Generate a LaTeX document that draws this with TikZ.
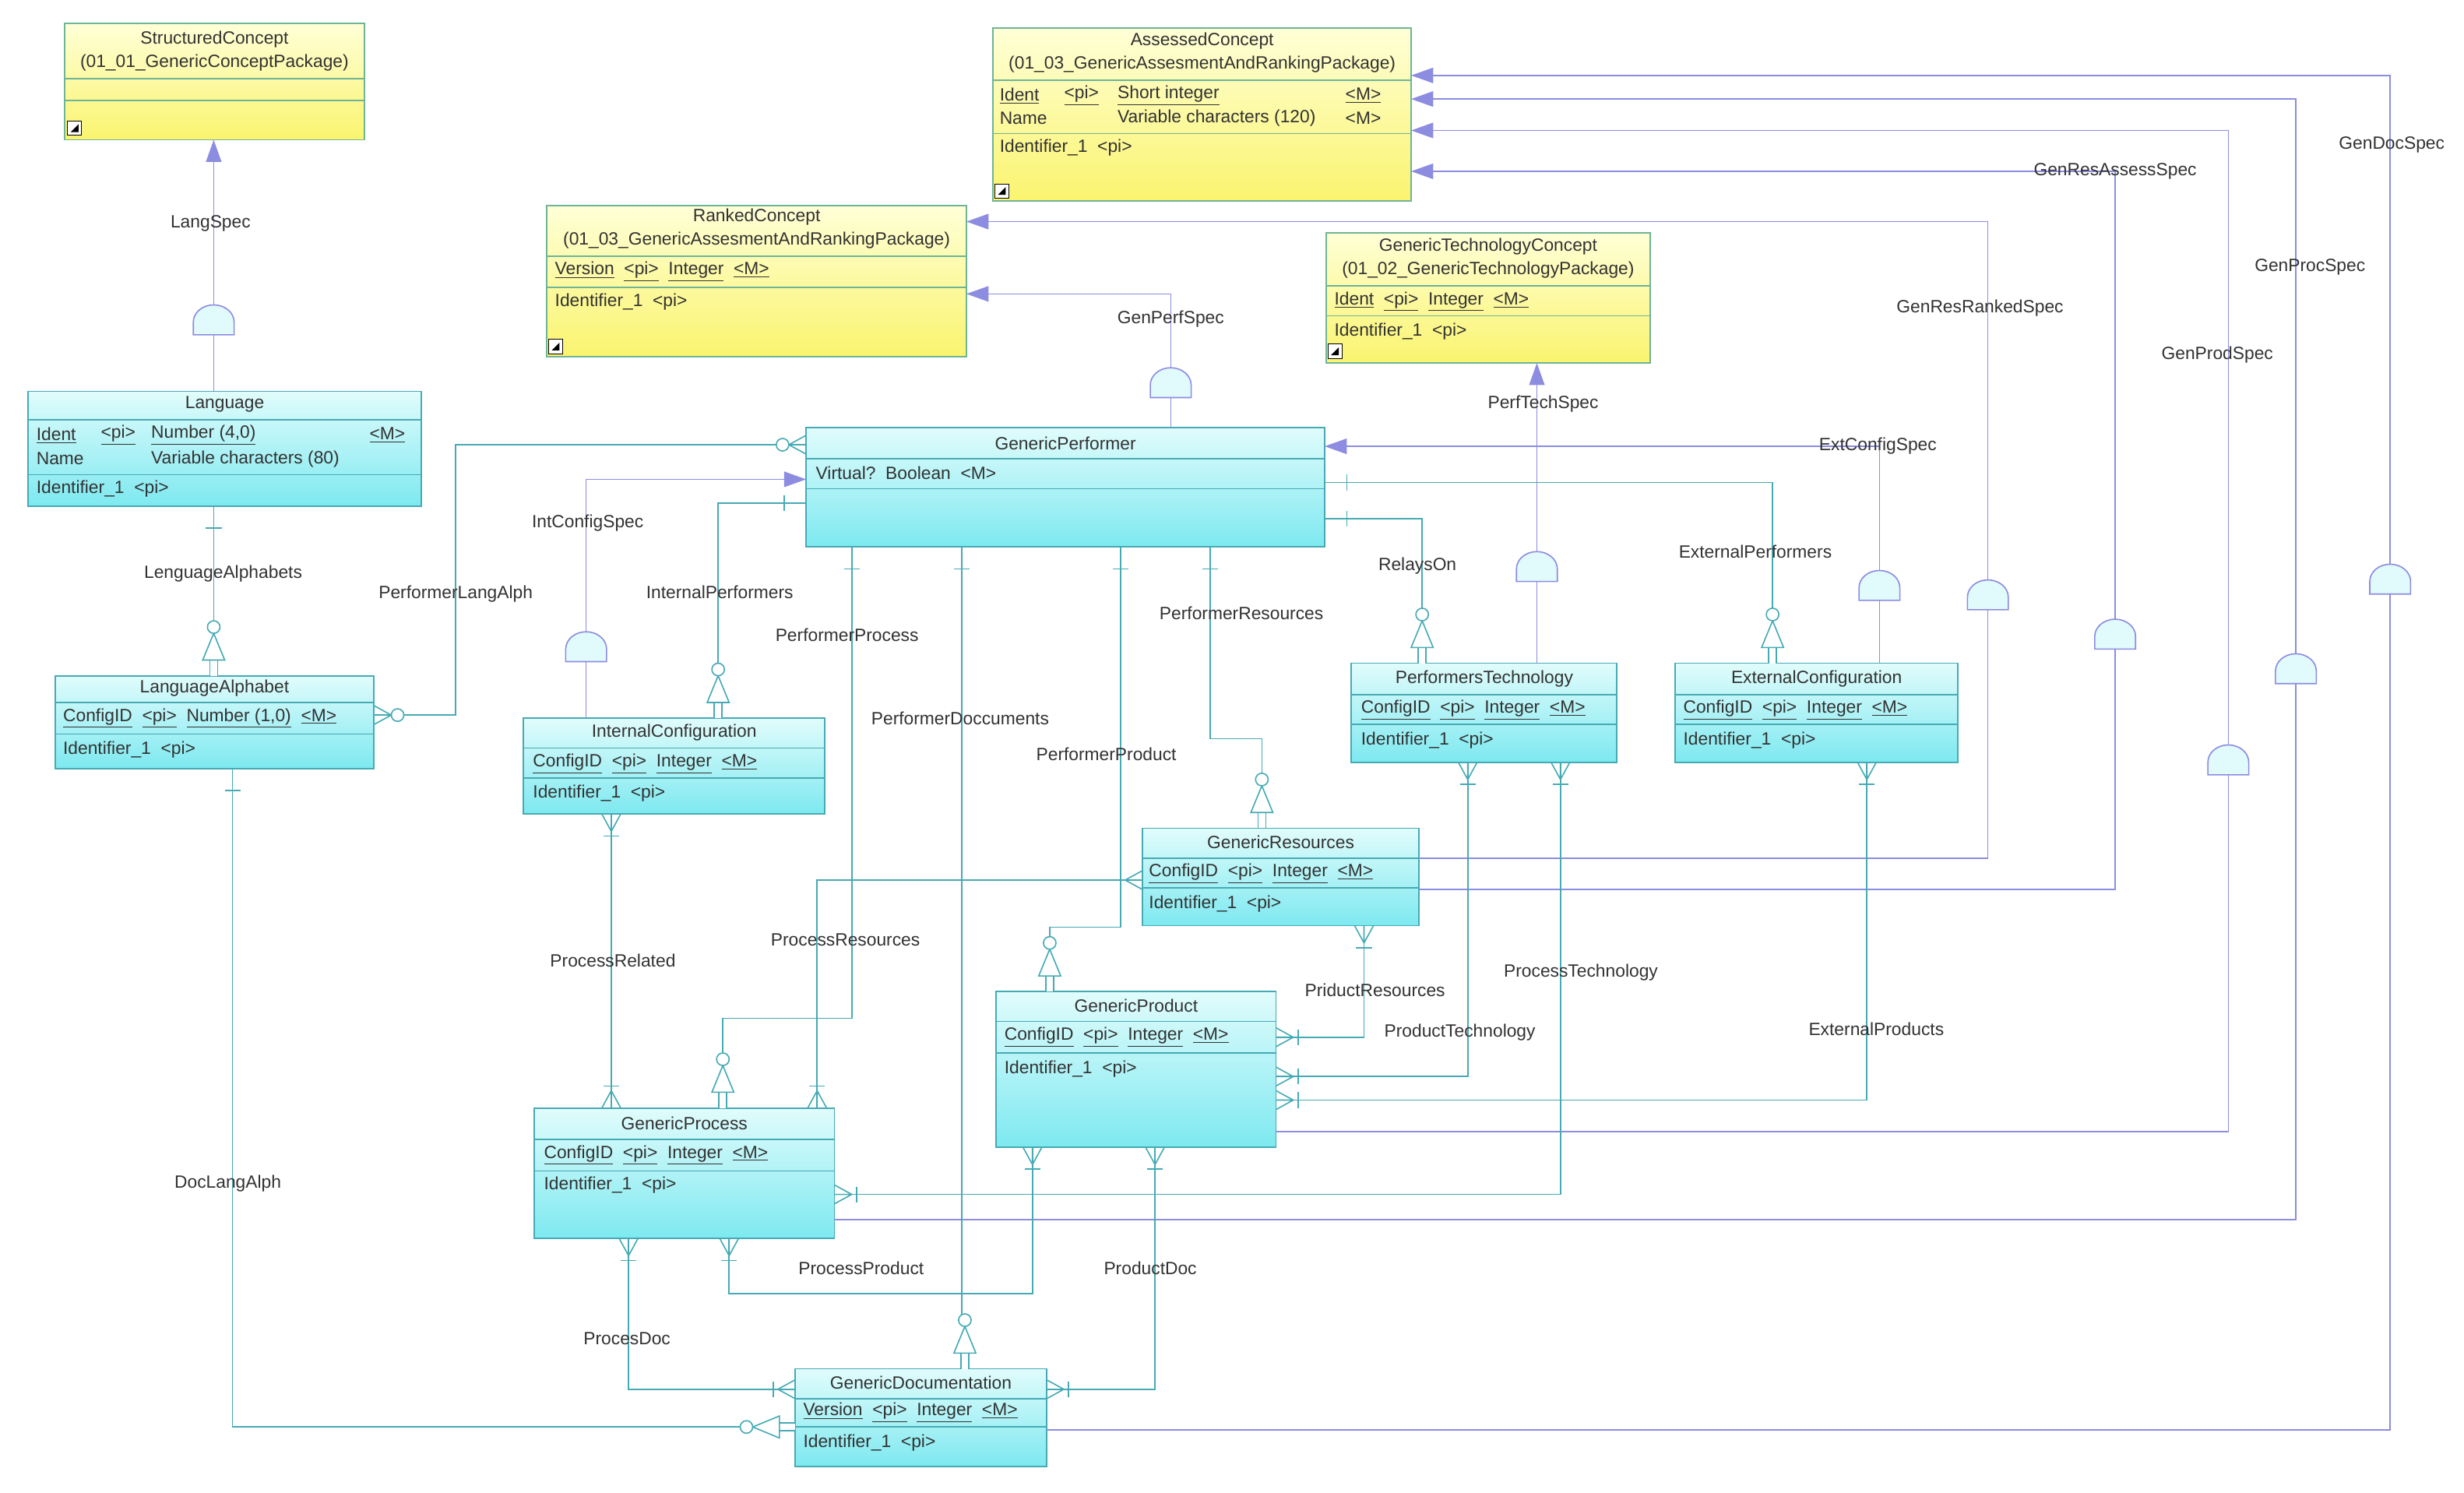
\documentclass[tikz,border=0pt]{standalone}
\usepackage{fontspec}
\setmainfont{Liberation Sans}
\usetikzlibrary{fit}
\definecolor{rel}{RGB}{70,170,180}
\definecolor{inh}{RGB}{140,140,225}
\definecolor{ybord}{RGB}{110,180,150}
\definecolor{cbord}{RGB}{70,170,180}
\definecolor{txtc}{RGB}{50,50,50}
\tikzset{
  yent/.style={draw=ybord,line width=0.9pt,top color={rgb,255:red,255;green,255;blue,215},bottom color={rgb,255:red,250;green,244;blue,110},inner sep=0pt},
  cent/.style={draw=cbord,line width=0.9pt,top color={rgb,255:red,225;green,252;blue,252},bottom color={rgb,255:red,125;green,233;blue,240},inner sep=0pt},
  txt/.style={font=\fontsize{11.3}{13}\selectfont,text=txtc,inner sep=0pt,anchor=west},
  ttl/.style={font=\fontsize{11.3}{13}\selectfont,text=txtc,inner sep=0pt},
  lab/.style={font=\fontsize{11.3}{13}\selectfont,text=txtc,inner sep=0pt},
  rl/.style={draw=rel,line width=0.8pt},
  il/.style={draw=inh,line width=0.8pt},
}
\newcommand\ent[6]{\node[#6,fit={(#2,#3) (#4,#5)}] (#1) {};}
\newcommand\sep[4]{\draw[#4,line width=0.8pt] (#1,#3)--(#2,#3);}
\newcommand\icon[2]{\draw[fill=white,draw=black,line width=0.5pt] (#1,#2) rectangle ++(9,-9); \fill[black] (#1+2,#2-2)--++(5,0)--++(0,-5)--cycle;}
\newcommand\crow[3]{\begin{scope}[shift={(#1,#2)},rotate=#3,x=1pt,y=1pt]\draw[rl] (0,-6)--(11,0)--(0,6) (0,0)--(11,0); \draw[rl] (14,-5)--(14,5);\end{scope}}
\newcommand\crowo[3]{\begin{scope}[shift={(#1,#2)},rotate=#3,x=1pt,y=1pt]\draw[rl] (0,-6)--(11,0)--(0,6); \draw[rl,fill=white] (15,0) circle (4);\end{scope}}
\newcommand\idt[3]{\begin{scope}[shift={(#1,#2)},rotate=#3,x=1pt,y=1pt]\fill[white] (0,-2.5) rectangle (10,2.5); \draw[rl] (0,-2.5)--(10,-2.5) (0,2.5)--(10,2.5); \draw[rl,fill=white] (10,-7)--(27,0)--(10,7)--cycle; \draw[rl,fill=white] (31,0) circle (4);\end{scope}}
\newcommand\tick[3]{\begin{scope}[shift={(#1,#2)},rotate=#3,x=1pt,y=1pt]\draw[rl] (14,-5)--(14,5);\end{scope}}
\newcommand\semi[2]{\draw[il,fill={rgb,255:red,225;green,250;blue,252}] (#1-13,#2+8)--(#1-13,#2) arc[start angle=180,end angle=0,x radius=13pt,y radius=11pt]--(#1+13,#2+8)--cycle;}
\newcommand\tri[3]{\begin{scope}[shift={(#1,#2)},rotate=#3,x=1pt,y=1pt]\fill[inh] (0,0)--(14,-5)--(14,5)--cycle;\end{scope}}
\begin{document}
\begin{tikzpicture}[x=1pt,y=-1pt]
\useasboundingbox (0,0) rectangle (1568,950);
\fill[white] (0,0) rectangle (1568,950);

% ---------------- entities ----------------
% StructuredConcept
\ent{sc}{41}{15}{232}{89}{yent}
\node[ttl] at (136.5,25) {StructuredConcept};
\node[ttl] at (136.5,40) {(01\_01\_GenericConceptPackage)};
\sep{41}{232}{50}{ybord} \sep{41}{232}{64}{ybord}
\icon{43}{86}
% AssessedConcept
\ent{ac}{632}{18}{898}{128}{yent}
\node[ttl] at (765,26) {AssessedConcept};
\node[ttl] at (765,41) {(01\_03\_GenericAssesmentAndRankingPackage)};
\sep{632}{898}{51}{ybord}
\node[txt] at (636,61) {\underline{Ident}}; \node[txt] at (677,61) {\underline{<pi>}}; \node[txt] at (711,61) {\underline{Short integer}}; \node[txt] at (856,61) {\underline{<M>}};
\node[txt] at (636,75) {Name}; \node[txt] at (711,75) {Variable characters (120)}; \node[txt] at (856,75) {<M>};
\sep{632}{898}{85}{ybord}
\node[txt] at (636,94) {Identifier\_1\ \ <pi>};
\icon{633}{126}
% RankedConcept
\ent{rc}{348}{131}{615}{227}{yent}
\node[ttl] at (481.5,138) {RankedConcept};
\node[ttl] at (481.5,153) {(01\_03\_GenericAssesmentAndRankingPackage)};
\sep{348}{615}{163}{ybord}
\node[txt] at (353,173) {\underline{Version}\ \ \underline{<pi>}\ \ \underline{Integer}\ \ \underline{<M>}};
\sep{348}{615}{183}{ybord}
\node[txt] at (353,192) {Identifier\_1\ \ <pi>};
\icon{349}{225}
% GenericTechnologyConcept
\ent{gtc}{844}{148}{1050}{231}{yent}
\node[ttl] at (947,157) {GenericTechnologyConcept};
\node[ttl] at (947,172) {(01\_02\_GenericTechnologyPackage)};
\sep{844}{1050}{182}{ybord}
\node[txt] at (849,192) {\underline{Ident}\ \ \underline{<pi>}\ \ \underline{Integer}\ \ \underline{<M>}};
\sep{844}{1050}{201}{ybord}
\node[txt] at (849,211) {Identifier\_1\ \ <pi>};
\icon{845}{228}
% Language
\ent{lang}{18}{249}{268}{322}{cent}
\node[ttl] at (143,257) {Language};
\sep{18}{268}{267}{cbord}
\node[txt] at (23,277) {\underline{Ident}}; \node[txt] at (64,277) {\underline{<pi>}}; \node[txt] at (96,277) {\underline{Number (4,0)}}; \node[txt] at (235,277) {\underline{<M>}};
\node[txt] at (23,292) {Name}; \node[txt] at (96,292) {Variable characters (80)};
\sep{18}{268}{302}{cbord}
\node[txt] at (23,311) {Identifier\_1\ \ <pi>};
% LanguageAlphabet
\ent{la}{35}{430}{238}{489}{cent}
\node[ttl] at (136.5,438) {LanguageAlphabet};
\sep{35}{238}{447}{cbord}
\node[txt] at (40,457) {\underline{ConfigID}\ \ \underline{<pi>}\ \ \underline{Number (1,0)}\ \ \underline{<M>}};
\sep{35}{238}{467}{cbord}
\node[txt] at (40,477) {Identifier\_1\ \ <pi>};
% GenericPerformer
\ent{gp}{513}{272}{843}{348}{cent}
\node[ttl] at (678,282) {GenericPerformer};
\sep{513}{843}{292}{cbord}
\node[txt] at (519,301) {Virtual?\ \ Boolean\ \ <M>};
\sep{513}{843}{311}{cbord}
% InternalConfiguration
\ent{ic}{333}{457}{525}{518}{cent}
\node[ttl] at (429,466) {InternalConfiguration};
\sep{333}{525}{476}{cbord}
\node[txt] at (339,486) {\underline{ConfigID}\ \ \underline{<pi>}\ \ \underline{Integer}\ \ \underline{<M>}};
\sep{333}{525}{495}{cbord}
\node[txt] at (339,505) {Identifier\_1\ \ <pi>};
% PerformersTechnology
\ent{pt}{860}{422}{1029}{485}{cent}
\node[ttl] at (944.5,432) {PerformersTechnology};
\sep{860}{1029}{442}{cbord}
\node[txt] at (866,452) {\underline{ConfigID}\ \ \underline{<pi>}\ \ \underline{Integer}\ \ \underline{<M>}};
\sep{860}{1029}{461}{cbord}
\node[txt] at (866,471) {Identifier\_1\ \ <pi>};
% ExternalConfiguration
\ent{ec}{1066}{422}{1246}{485}{cent}
\node[ttl] at (1156,432) {ExternalConfiguration};
\sep{1066}{1246}{442}{cbord}
\node[txt] at (1071,452) {\underline{ConfigID}\ \ \underline{<pi>}\ \ \underline{Integer}\ \ \underline{<M>}};
\sep{1066}{1246}{461}{cbord}
\node[txt] at (1071,471) {Identifier\_1\ \ <pi>};
% GenericResources
\ent{gr}{727}{527}{903}{589}{cent}
\node[ttl] at (815,536) {GenericResources};
\sep{727}{903}{546}{cbord}
\node[txt] at (731,556) {\underline{ConfigID}\ \ \underline{<pi>}\ \ \underline{Integer}\ \ \underline{<M>}};
\sep{727}{903}{565}{cbord}
\node[txt] at (731,575) {Identifier\_1\ \ <pi>};
% GenericProduct
\ent{gprod}{634}{631}{812}{730}{cent}
\node[ttl] at (723,640) {GenericProduct};
\sep{634}{812}{650}{cbord}
\node[txt] at (639,660) {\underline{ConfigID}\ \ \underline{<pi>}\ \ \underline{Integer}\ \ \underline{<M>}};
\sep{634}{812}{670}{cbord}
\node[txt] at (639,680) {Identifier\_1\ \ <pi>};
% GenericProcess
\ent{gproc}{340}{705}{531}{788}{cent}
\node[ttl] at (435.5,715) {GenericProcess};
\sep{340}{531}{725}{cbord}
\node[txt] at (346,735) {\underline{ConfigID}\ \ \underline{<pi>}\ \ \underline{Integer}\ \ \underline{<M>}};
\sep{340}{531}{745}{cbord}
\node[txt] at (346,754) {Identifier\_1\ \ <pi>};
% GenericDocumentation
\ent{gd}{506}{871}{666}{933}{cent}
\node[ttl] at (586,880) {GenericDocumentation};
\sep{506}{666}{890}{cbord}
\node[txt] at (511,899) {\underline{Version}\ \ \underline{<pi>}\ \ \underline{Integer}\ \ \underline{<M>}};
\sep{506}{666}{908}{cbord}
\node[txt] at (511,918) {Identifier\_1\ \ <pi>};

% ---------------- connectors: inheritance (lavender) ----------------
\draw[il] (sc.south -| 136,0) ++(0,7)--(136,249);
\draw[il] (745,272)--(745,187)--(622,187); \tri{615}{187}{0}
\draw[il] (978,422)--(978,238); \tri{978}{231}{-90}
\draw[il] (373,457)--(373,305)--(506,305); \tri{513}{305}{180}
\draw[il] (1196,422)--(1196,284)--(850,284); \tri{843}{284}{0}
\draw[il] (666,910)--(1521,910)--(1521,48)--(905,48); \tri{898}{48}{0}
\draw[il] (531,776)--(1461,776)--(1461,63)--(905,63); \tri{898}{63}{0}
\draw[il] (812,720)--(1418,720)--(1418,83)--(905,83); \tri{898}{83}{0}
\draw[il] (903,566)--(1346,566)--(1346,109)--(905,109); \tri{898}{109}{0}
\draw[il] (903,546)--(1265,546)--(1265,141)--(622,141); \tri{615}{141}{0}
\tri{136}{89}{-90}

% ---------------- connectors: relations (teal) ----------------
\draw[rl] (513,283)--(290,283)--(290,455)--(238,455);
\draw[rl] (136,322)--(136,430);
\draw[rl] (513,320)--(457,320)--(457,457);
\draw[rl] (542,348)--(542,648)--(460,648)--(460,705);
\draw[rl] (612,348)--(612,840)--(614,840)--(614,871);
\draw[rl] (713,348)--(713,590)--(668,590)--(668,631);
\draw[rl] (770,348)--(770,470)--(803,470)--(803,527);
\draw[rl] (843,330)--(905,330)--(905,422);
\draw[rl] (843,307)--(1128,307)--(1128,422);
\draw[rl] (389,518)--(389,705);
\draw[rl] (727,560)--(520,560)--(520,705);
\draw[rl] (868,589)--(868,660)--(812,660);
\draw[rl] (934,485)--(934,685)--(812,685);
\draw[rl] (993,485)--(993,760)--(531,760);
\draw[rl] (1188,485)--(1188,700)--(812,700);
\draw[rl] (657,730)--(657,823)--(464,823)--(464,788);
\draw[rl] (735,730)--(735,884)--(666,884);
\draw[rl] (400,788)--(400,884)--(506,884);
\draw[rl] (148,489)--(148,908)--(506,908);

% ---------------- semicircles ----------------
\semi{136}{205} \semi{745}{245} \semi{978}{362} \semi{373}{413}
\semi{1196}{374} \semi{1521}{370} \semi{1461}{427} \semi{1418}{485}
\semi{1346}{405} \semi{1265}{380}

% ---------------- end symbols ----------------
\crowo{513}{283}{180} \crowo{238}{455}{0}
\tick{136}{322}{-90} \idt{136}{430}{90}
\tick{513}{320}{180} \idt{457}{457}{90}
\tick{542}{348}{-90} \idt{460}{705}{90}
\tick{612}{348}{-90} \idt{614}{871}{90}
\tick{713}{348}{-90} \idt{668}{631}{90}
\tick{770}{348}{-90} \idt{803}{527}{90}
\tick{843}{330}{0} \idt{905}{422}{90}
\tick{843}{307}{0} \idt{1128}{422}{90}
\crow{389}{518}{-90} \crow{389}{705}{90}
\crow{727}{560}{180} \crow{520}{705}{90}
\crow{868}{589}{-90} \crow{812}{660}{0}
\crow{934}{485}{-90} \crow{812}{685}{0}
\crow{993}{485}{-90} \crow{531}{760}{0}
\crow{1188}{485}{-90} \crow{812}{700}{0}
\crow{657}{730}{-90} \crow{464}{788}{-90}
\crow{735}{730}{-90} \crow{666}{884}{0}
\crow{400}{788}{-90} \crow{506}{884}{180}
\tick{148}{489}{-90} \idt{506}{908}{180}

% ---------------- labels ----------------
\node[lab] at (134,142) {LangSpec};
\node[lab] at (745,203) {GenPerfSpec};
\node[lab] at (982,257) {PerfTechSpec};
\node[lab] at (374,333) {IntConfigSpec};
\node[lab] at (1195,284) {ExtConfigSpec};
\node[lab] at (1522,92) {GenDocSpec};
\node[lab] at (1470,170) {GenProcSpec};
\node[lab] at (1411,226) {GenProdSpec};
\node[lab] at (1346,109) {GenResAssessSpec};
\node[lab] at (1260,196) {GenResRankedSpec};
\node[lab] at (290,378) {PerformerLangAlph};
\node[lab] at (142,365) {LenguageAlphabets};
\node[lab] at (458,377) {InternalPerformers};
\node[lab] at (539,404) {PerformerProcess};
\node[lab] at (611,457) {PerformerDoccuments};
\node[lab] at (704,480) {PerformerProduct};
\node[lab] at (790,390) {PerformerResources};
\node[lab] at (902,360) {RelaysOn};
\node[lab] at (1117,351) {ExternalPerformers};
\node[lab] at (390,611) {ProcessRelated};
\node[lab] at (538,598) {ProcessResources};
\node[lab] at (875,630) {PriductResources};
\node[lab] at (929,657) {ProductTechnology};
\node[lab] at (1006,619) {ProcessTechnology};
\node[lab] at (1194,655) {ExternalProducts};
\node[lab] at (548,807) {ProcessProduct};
\node[lab] at (732,807) {ProductDoc};
\node[lab] at (399,852) {ProcesDoc};
\node[lab] at (145,753) {DocLangAlph};
\end{tikzpicture}
\end{document}
